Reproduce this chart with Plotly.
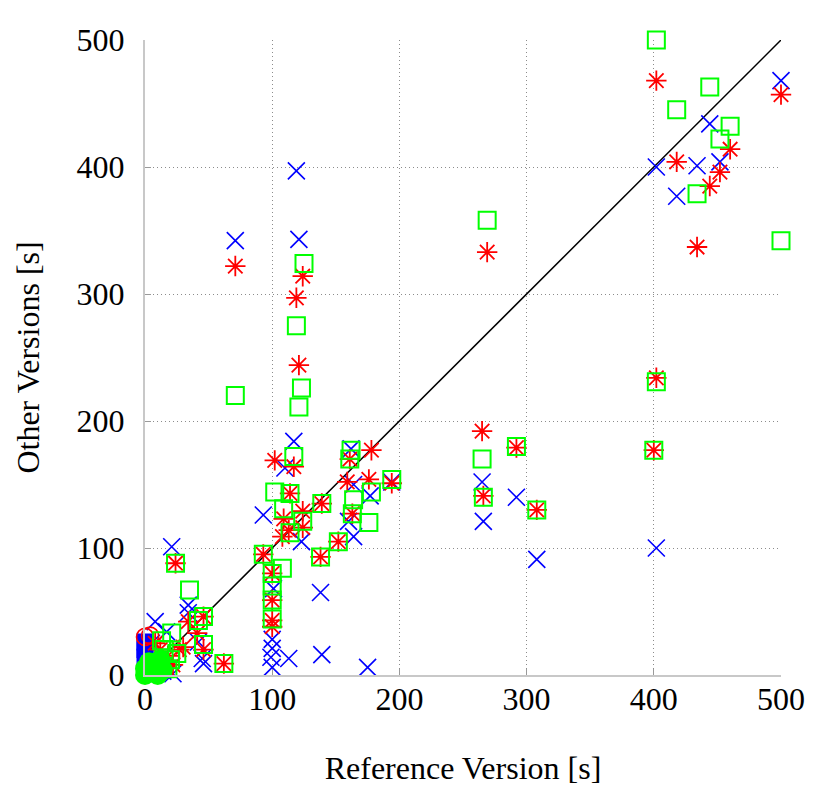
import plotly.graph_objects as go

# Reference version runtime [s] vs. runtimes of the other versions [s]
# version A (blue crosses)
a_x = [119, 71, 121, 117, 402, 434, 452, 444, 418, 500, 265, 266, 292, 308, 402,
       21, 34, 8, 42, 46, 22, 93, 101, 100, 100, 99, 100, 113, 139, 175, 138,
       110, 123, 162, 164, 177, 160, 164, 194, 17, 45, 34, 5, 14, 3]
a_y = [397, 342, 343, 184, 400, 401, 404, 434, 377, 468, 152, 121, 140, 91, 100,
       101, 55, 42, 26, 9, 1, 126, 68, 28, 21, 14, 6, 13, 16, 6, 65,
       163, 105, 178, 150, 141, 121, 109, 152, 34, 13, 49, 25, 3, 8]

# version B (red asterisks)
b_x = [71, 124, 119, 121, 402, 460, 418, 452, 444, 434, 500, 269, 265, 266, 292,
       308, 400, 402, 24, 34, 46, 41, 46, 30, 62, 93, 100, 100, 100, 100,
       102, 117, 114, 109, 124, 124, 113, 108, 139, 138, 152,
       161, 159, 178, 176, 163, 194, 18, 12, 22, 8, 27]
b_y = [322, 314, 297, 244, 468, 414, 404, 396, 385, 337, 457, 333, 192, 141, 179,
       130, 177, 234, 88, 42, 46, 33, 20, 22, 9, 95, 80, 59, 43, 38,
       169, 164, 143, 123, 129, 116, 114, 109, 135, 93, 105,
       170, 152, 177, 154, 127, 151, 15, 20, 8, 25, 20]

# version C (green squares)
c_x = [402, 444, 418, 460, 452, 434, 500, 269, 265, 266, 292, 308, 400, 402, 71,
       125, 119, 123, 121, 24, 35, 46, 42, 21, 46, 62, 93, 100, 108, 100, 100, 100,
       102, 117, 114, 109, 124, 114, 139, 138, 152,
       161, 162, 178, 164, 163, 176, 194, 15, 20, 25, 18, 13]
c_y = [500, 463, 445, 432, 422, 379, 342, 358, 170, 140, 180, 130, 177, 231, 220,
       324, 275, 226, 211, 88, 67, 46, 43, 33, 24, 9, 95, 80, 84, 70, 59, 44,
       144, 172, 143, 131, 121, 112, 135, 93, 105,
       170, 177, 144, 138, 127, 120, 154, 20, 12, 17, 5, 27]

# tiny runs piled up at the origin
d_x = [0, 0, 0]
d_y = [14, 20, 26]
e_x = [0, 4]
e_y = [30, 31]
f_x = [0, 8, 12, 3, 14, 6, 0, 10]
f_y = [0, 3, 12, 10, 4, 6, 5, 0]

ticks = [0, 100, 200, 300, 400, 500]
serif = dict(family="Liberation Serif", size=32, color="black")

fig = go.Figure()

fig.add_trace(go.Scatter(x=[0, 500], y=[0, 500], mode="lines",
                         line=dict(color="black", width=1.5), cliponaxis=False))

fig.add_trace(go.Scatter(x=d_x, y=d_y, mode="markers", cliponaxis=False,
                         marker=dict(symbol="square", size=17, color="#0000ff",
                                     line=dict(width=0))))
fig.add_trace(go.Scatter(x=a_x, y=a_y, mode="markers", cliponaxis=False,
                         marker=dict(symbol="x-thin-open", size=17, color="#0000ff",
                                     line=dict(color="#0000ff", width=1.6))))
fig.add_trace(go.Scatter(x=e_x, y=e_y, mode="markers", cliponaxis=False,
                         marker=dict(symbol="circle-open", size=17, color="#ff0000",
                                     line=dict(color="#ff0000", width=1.6))))
fig.add_trace(go.Scatter(x=b_x, y=b_y, mode="markers", cliponaxis=False,
                         marker=dict(symbol="asterisk-open", size=17, color="#ff0000",
                                     line=dict(color="#ff0000", width=1.8))))
fig.add_trace(go.Scatter(x=c_x, y=c_y, mode="markers", cliponaxis=False,
                         marker=dict(symbol="square-open", size=17, color="#00ff00",
                                     line=dict(color="#00ff00", width=2))))
fig.add_trace(go.Scatter(x=f_x, y=f_y, mode="markers", cliponaxis=False,
                         marker=dict(symbol="circle", size=20, color="#00ff00",
                                     line=dict(width=0))))

axis_style = dict(range=[0, 500], tickvals=ticks, showgrid=True,
                  gridcolor="#8c8c8c", griddash="1px,3px", gridwidth=1,
                  zeroline=False, showline=True, linecolor="#c8c8c8", linewidth=2,
                  ticks="inside", ticklen=6, tickcolor="#9a9a9a", tickwidth=1,
                  tickfont=serif)

fig.update_layout(
    width=830, height=792,
    margin=dict(l=137, r=57, t=32, b=125),
    paper_bgcolor="white", plot_bgcolor="white",
    showlegend=False,
    xaxis=dict(axis_style, ticklabelstandoff=-5,
               title=dict(text="Reference Version [s]", standoff=40, font=serif)),
    yaxis=dict(axis_style, ticklabelstandoff=12,
               title=dict(text="Other Versions [s]", standoff=27, font=serif)),
)

fig.write_html("out.html")
